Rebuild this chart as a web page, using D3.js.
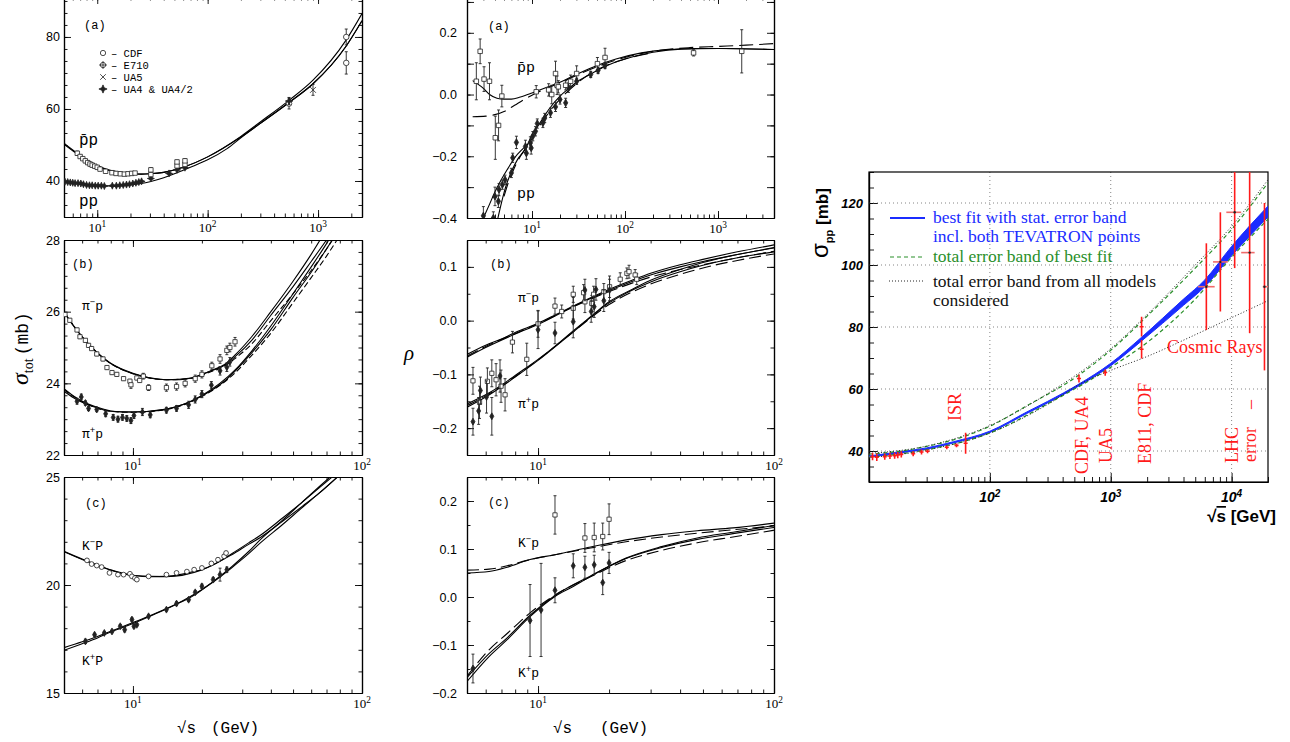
<!DOCTYPE html>
<html>
<head>
<meta charset="utf-8">
<script src="https://cdnjs.cloudflare.com/ajax/libs/d3/7.8.5/d3.min.js"></script>
<style>
body { margin: 0; background: #fff; }
</style>
</head>
<body>
<div id="chart"></div>
<script>

// ---------- left column (a): total cross sections pp and pbar-p, [sqrt s, sigma, err]
var ppbarSigmaData = [[6.6,47.7,0.6],[7.0,46.8,0.5],[7.4,46.2,0.5],[7.8,45.6,0.5],[8.2,45.1,0.5],[8.6,44.7,0.5],[9.0,44.4,0.5],[9.5,44.1,0.4],[10.0,43.8,0.4],[10.6,43.3,0.4],[11.9,42.7,0.4],[13.6,42.3,0.4],[14.8,42.1,0.4],[16.2,42.0,0.4],[17.6,41.9,0.4],[19.0,42.0,0.4],[20.5,42.1,0.4],[22.0,42.2,0.4],[30.6,41.8,0.5],[30.6,43.1,0.6],[52.8,44.2,0.5],[52.8,45.3,0.5],[62.3,44.6,0.5],[62.3,45.6,0.6]];
var ppSigmaData = [[5.1,39.8,0.2],[5.4,39.7,0.2],[5.7,39.6,0.2],[6.0,39.5,0.2],[6.3,39.4,0.2],[6.7,39.4,0.2],[7.1,39.3,0.2],[7.5,39.1,0.2],[8.0,38.9,0.2],[8.5,38.8,0.2],[9.0,38.8,0.2],[9.6,38.7,0.2],[10.2,38.7,0.2],[10.9,38.7,0.2],[11.6,38.6,0.2],[13.7,38.7,0.2],[14.9,38.7,0.2],[16.0,38.8,0.2],[17.2,38.9,0.2],[18.4,39.0,0.2],[19.6,39.1,0.2],[21.0,39.3,0.2],[22.4,39.5,0.2],[23.8,39.7,0.2],[25.2,39.9,0.2],[30.6,40.7,0.3],[44.7,42.1,0.3],[52.8,43.1,0.3],[62.3,43.7,0.3]];
var cdfSigmaData = [[546,61.5,1.5],[1800,80.0,2.2]];
var e710SigmaData = [[1800,72.8,3.1]];
var ua5SigmaData = [[900,65.3,1.5]];
var ua4SigmaData = [[546,62.2,1.0]];
var ppbarSigmaFitA = [[5,50.5],[6,48.6],[7,47.1],[8,45.9],[10,44.3],[12,43.3],[15,42.6],[20,42.1],[25,41.9],[30,42.0],[40,42.4],[60,43.8],[100,46.7],[200,52.2],[300,56.0],[546,61.8],[900,67.0],[1800,77.5],[2500,84.5]];
var ppbarSigmaFitB = [[5,50.2],[6,48.4],[7,46.9],[8,45.8],[10,44.2],[12,43.2],[15,42.5],[20,42.0],[25,41.9],[30,42.0],[40,42.4],[60,43.8],[100,46.7],[200,52.4],[300,56.4],[546,62.4],[900,68.0],[1800,79.2],[2500,86.5]];
var ppSigmaFitA = [[5,39.8],[6,39.5],[7,39.2],[8,39.0],[10,38.8],[12,38.65],[15,38.65],[20,38.9],[25,39.3],[30,39.8],[40,40.9],[50,42.0],[60,43.0],[80,44.6],[100,45.9],[150,49.0],[200,52.0],[300,56.0],[546,61.8],[900,67.0],[1800,77.5],[2500,84.5]];

// ---------- left column (b): pi-p and pi+p
var pimSigmaData = [[5.05,25.92,0.05],[5.3,25.76,0.05],[5.7,25.49,0.05],[5.87,25.3,0.05],[6.2,25.2,0.05],[6.4,25.06,0.05],[6.6,24.97,0.05],[6.95,24.82,0.05],[7.4,24.68,0.05],[7.7,24.44,0.05],[8.1,24.3,0.05],[8.5,24.25,0.05],[9.1,24.13,0.05],[9.7,24.06,0.05],[9.8,23.96,0.1],[10.4,24.15,0.05],[10.7,24.08,0.05],[11.1,24.2,0.08],[11.7,23.88,0.08],[14.0,23.88,0.1],[15.5,23.91,0.1],[16.9,24.0,0.1],[18.7,24.13,0.1],[20,24.25,0.1],[22.1,24.49,0.1],[24,24.68,0.12],[25.7,24.92,0.12],[26.5,25.0,0.12],[27.9,25.16,0.12]];
var pipSigmaData = [[5.7,23.5,0.08],[5.95,23.62,0.08],[6.2,23.45,0.06],[6.4,23.3,0.06],[6.95,23.27,0.06],[7.6,23.15,0.08],[8.2,23.05,0.08],[8.6,23.0,0.08],[9.0,23.05,0.08],[9.4,23.02,0.08],[9.8,22.96,0.08],[10.1,23.1,0.08],[11.0,23.2,0.1],[11.9,23.12,0.08],[14,23.25,0.08],[15.5,23.3,0.08],[17.5,23.4,0.1],[18.7,23.55,0.1],[20,23.7,0.1],[22,23.95,0.1],[24,24.35,0.12],[25.7,24.45,0.12],[26.5,24.6,0.12]];
var pimSigmaFitA = [[5,26.0],[5.5,25.6],[6,25.3],[7,24.85],[8,24.55],[9,24.38],[10,24.27],[12,24.15],[14,24.1],[16,24.1],[18,24.15],[20,24.25],[22,24.35],[25,24.5],[28,24.75],[33,25.2],[40,25.9],[50,26.7],[60,27.4],[70,28.0],[85,28.8]];
var pimSigmaFitB = [[5,25.98],[6,25.3],[8,24.56],[10,24.28],[14,24.1],[18,24.15],[22,24.36],[25,24.52],[28,24.8],[33,25.3],[40,26.0],[50,26.85],[60,27.6],[70,28.3]];
var pimSigmaDash = [[5,26.0],[6,25.3],[8,24.55],[10,24.27],[14,24.1],[18,24.14],[22,24.33],[25,24.47],[28,24.7],[33,25.1],[40,25.75],[50,26.5],[60,27.15],[70,27.75],[85,28.6]];
var pipSigmaFitA = [[5,23.85],[5.5,23.65],[6,23.5],[7,23.33],[8,23.23],[9,23.2],[10,23.2],[12,23.22],[14,23.28],[16,23.38],[18,23.5],[20,23.65],[22,23.8],[25,24.05],[28,24.35],[33,24.85],[40,25.5],[50,26.4],[60,27.1],[70,27.75],[85,28.6]];
var pipSigmaFitB = [[5,23.78],[5.5,23.6],[6,23.47],[7,23.31],[8,23.22],[10,23.2],[14,23.28],[20,23.66],[28,24.38],[33,24.9],[40,25.6],[50,26.5],[60,27.25],[70,27.9],[85,28.8]];
var pipSigmaDash = [[5,23.82],[6,23.49],[8,23.22],[10,23.19],[14,23.27],[20,23.63],[28,24.3],[33,24.78],[40,25.4],[50,26.25],[60,26.95],[70,27.55],[85,28.4]];

// ---------- left column (c): K-p and K+p
var kmSigmaData = [[6.3,21.14,0.05],[6.6,20.97,0.05],[6.95,20.9,0.05],[7.3,20.83,0.05],[7.9,20.56,0.05],[8.6,20.48,0.05],[9.1,20.48,0.05],[9.7,20.52,0.05],[9.9,20.4,0.05],[10.2,20.32,0.05],[10.4,20.25,0.05],[11.7,20.4,0.05],[14,20.48,0.05],[15.5,20.56,0.05],[17.2,20.62,0.05],[18.5,20.71,0.05],[20,20.79,0.05],[22,21.0,0.08],[23.5,21.17,0.08],[25,21.33,0.08],[25.5,21.48,0.08]];
var kpSigmaData = [[6.2,17.39,0.1],[6.8,17.7,0.06],[7.5,17.78,0.06],[8.1,17.85,0.06],[8.8,18.09,0.08],[9.2,17.93,0.1],[9.9,18.4,0.08],[10.1,18.09,0.08],[10.4,18.16,0.06],[11.7,18.55,0.06],[14,18.86,0.06],[15.5,19.14,0.08],[17.5,19.32,0.08],[18.7,19.66,0.08],[20,19.94,0.1],[22.4,20.25,0.1],[24,20.48,0.3],[25.7,20.71,0.12]];
var kmSigmaFitA = [[5,21.56],[6,21.2],[7,20.92],[8,20.7],[9,20.55],[10,20.45],[12,20.38],[14,20.4],[16,20.48],[18,20.6],[20,20.72],[23,21.0],[27,21.45],[32,21.95],[36,22.3],[45,23.1],[55,23.85],[65,24.5],[76,25.1]];
var kmSigmaFitB = [[5,21.54],[7,20.9],[10,20.44],[14,20.39],[20,20.7],[27,21.4],[32,21.88],[36,22.2],[45,22.95],[55,23.65],[65,24.25],[80,25.1]];
var kpSigmaFitA = [[5,17.1],[6,17.37],[7,17.62],[8,17.86],[10,18.26],[12,18.6],[15,19.05],[18,19.45],[22,20.1],[27,20.85],[32,21.55],[36,22.1],[45,23.0],[55,23.85],[65,24.55],[80,25.4]];
var kpSigmaFitB = [[5,16.98],[6,17.28],[7,17.55],[8,17.82],[10,18.22],[12,18.58],[15,19.04],[22,20.08],[27,20.8],[32,21.45],[36,21.95],[45,22.8],[55,23.6],[65,24.25],[80,25.1]];

// ---------- middle column (a): rho for pp and pbar-p
var ppbarRhoData = [[2.52,0.043,0.06],[2.77,0.14,0.04],[3.05,0.05,0.04],[3.49,0.043,0.06],[4.03,-0.14,0.07],[4.37,-0.10,0.05],[4.74,-0.005,0.035],[11.1,0.009,0.02],[15.1,0.015,0.02],[16.3,0.0,0.03],[17.9,0.068,0.04],[18.6,0.03,0.03],[19.2,0.025,0.02],[23.0,0.03,0.015],[26.0,0.043,0.02],[30.2,0.068,0.025],[50.5,0.10,0.02],[61,0.12,0.03],[546,0.135,0.01],[1800,0.14,0.07]];
var ppRhoData = [[3.0,-0.393,0.03],[3.84,-0.40,0.02],[4.0,-0.33,0.03],[4.35,-0.346,0.02],[4.42,-0.308,0.02],[4.8,-0.292,0.015],[5.13,-0.276,0.015],[6.0,-0.254,0.015],[6.2,-0.205,0.015],[6.8,-0.155,0.02],[8.5,-0.168,0.02],[8.7,-0.19,0.02],[9.6,-0.157,0.02],[9.8,-0.173,0.02],[10.2,-0.135,0.015],[10.9,-0.119,0.015],[11.4,-0.094,0.015],[13.1,-0.092,0.015],[13.7,-0.076,0.015],[15.8,-0.059,0.015],[17.9,-0.04,0.015],[20.0,-0.016,0.015],[23.0,-0.027,0.015],[24.7,0.022,0.015],[30.2,0.043,0.01],[42.8,0.065,0.01],[51.3,0.078,0.01],[61,0.094,0.01]];
var ppbarRhoFit = [[2.3,0.045],[3.0,0.02],[3.5,0.0],[4.2,-0.012],[5.0,-0.015],[6.0,-0.015],[7.5,-0.008],[10,0.005],[14,0.022],[20,0.04],[30,0.065],[50,0.094],[80,0.115],[150,0.135],[300,0.146],[600,0.149],[1200,0.149],[4000,0.146]];
var ppbarRhoDash = [[2.3,-0.072],[3.2,-0.07],[4,-0.065],[5,-0.055],[6.5,-0.035],[8,-0.018],[10,-0.002],[14,0.018],[20,0.038],[30,0.062],[50,0.09],[100,0.12],[200,0.14],[500,0.152],[1000,0.156],[2000,0.16],[4000,0.165]];
var ppRhoFitA = [[3.0,-0.4],[3.5,-0.355],[4.0,-0.315],[4.5,-0.285],[5.5,-0.24],[6.5,-0.205],[8,-0.175],[9,-0.16],[10,-0.13],[12,-0.095],[15,-0.05],[20,-0.005],[25,0.02],[30,0.04],[45,0.07],[60,0.09],[100,0.115],[200,0.137],[400,0.147],[1000,0.149],[4000,0.146]];
var ppRhoFitB = [[4.3,-0.4],[4.7,-0.35],[5.2,-0.3],[6,-0.25],[7,-0.21],[8.5,-0.175],[9,-0.16]];
var ppRhoDash = [[5.0,-0.33],[5.5,-0.29],[6.3,-0.245],[7.5,-0.2],[9,-0.165],[11,-0.12],[15,-0.06],[20,-0.015],[30,0.035],[50,0.08],[100,0.115],[200,0.135]];

// ---------- middle column (b): rho for pi-p and pi+p
var pimRhoData = [[5.3,-0.112,0.025],[5.65,-0.152,0.03],[6.1,-0.113,0.025],[6.37,-0.098,0.025],[6.64,-0.11,0.03],[6.97,-0.122,0.03],[7.25,-0.138,0.03],[7.79,-0.04,0.02],[8.96,-0.072,0.03],[10.0,-0.006,0.025],[11.8,0.027,0.015],[12.6,0.017,0.012],[14.1,0.049,0.015],[14.1,0.023,0.02],[15.6,0.052,0.015],[15.8,0.035,0.02],[16.9,0.032,0.015],[17.2,0.049,0.015],[19.0,0.054,0.015],[20.1,0.063,0.02],[22.3,0.077,0.012],[23.8,0.088,0.01],[24.3,0.091,0.012],[25.8,0.085,0.01],[26.2,0.077,0.01]];
var pipRhoData = [[5.3,-0.188,0.025],[5.6,-0.168,0.025],[5.7,-0.13,0.025],[6.05,-0.142,0.03],[6.37,-0.178,0.035],[6.9,-0.103,0.03],[10.0,-0.017,0.035],[11.8,-0.023,0.02],[14.1,-0.002,0.03],[15.8,0.057,0.02],[16.8,0.017,0.02],[17.3,0.026,0.02],[17.6,0.058,0.02],[19.0,0.037,0.02],[20.1,0.057,0.02]];
var pimRhoFitA = [[5,-0.063],[6,-0.046],[7,-0.034],[8,-0.022],[10,-0.005],[12,0.012],[15,0.033],[20,0.058],[25,0.075],[30,0.088],[40,0.104],[50,0.114],[70,0.128],[100,0.141]];
var pimRhoFitB = [[5,-0.068],[6,-0.05],[8,-0.025],[10,-0.007],[15,0.032],[20,0.056],[30,0.085],[40,0.1],[50,0.11],[70,0.123],[100,0.136]];
var pimRhoDash = [[5,-0.066],[6,-0.048],[8,-0.024],[10,-0.006],[15,0.031],[20,0.054],[30,0.081],[40,0.095],[50,0.104],[70,0.117],[100,0.129]];
var pipRhoFitA = [[5,-0.155],[6,-0.138],[7,-0.12],[8,-0.102],[10,-0.072],[12,-0.045],[14,-0.02],[17,0.01],[20,0.035],[25,0.058],[30,0.075],[40,0.095],[50,0.108],[70,0.123],[100,0.135]];
var pipRhoFitB = [[5,-0.161],[6,-0.142],[8,-0.105],[10,-0.074],[14,-0.022],[20,0.033],[30,0.072],[40,0.091],[50,0.103],[70,0.117],[100,0.128]];
var pipRhoDash = [[5,-0.158],[6,-0.14],[8,-0.104],[10,-0.073],[14,-0.022],[20,0.03],[30,0.068],[40,0.086],[50,0.098],[70,0.112],[100,0.124]];

// ---------- middle column (c): rho for K-p and K+p
var kmRhoData = [[11.8,0.171,0.04],[15.8,0.123,0.03],[17.3,0.124,0.03],[18.8,0.126,0.028],[20,0.162,0.032]];
var kpRhoData = [[5.3,-0.149,0.03],[9.25,-0.049,0.075],[10.3,-0.027,0.097],[11.8,0.014,0.026],[14.1,0.065,0.025],[15.8,0.062,0.023],[17.3,0.067,0.02],[18.8,0.030,0.025],[20,0.071,0.022]];
var kmRhoFit = [[5,0.05],[6.2,0.053],[7.4,0.062],[9.25,0.078],[11.8,0.088],[16.7,0.104],[23.6,0.119],[33.4,0.13],[47.3,0.138],[67,0.144],[100,0.154]];
var kmRhoDash = [[5,0.056],[6.2,0.058],[7.4,0.065],[9.25,0.078],[11.8,0.088],[16.7,0.102],[23.6,0.115],[33.4,0.125],[47.3,0.133],[67,0.14],[100,0.148]];
var kpRhoFitA = [[5,-0.176],[6.2,-0.124],[7.4,-0.089],[9.25,-0.041],[11.8,0.001],[14.1,0.022],[16.7,0.043],[23.6,0.081],[33.4,0.105],[47.3,0.123],[67,0.135],[100,0.149]];
var kpRhoFitB = [[5,-0.168],[6.2,-0.118],[7.4,-0.085],[9.25,-0.038],[11.8,0.003],[16.7,0.044],[23.6,0.08],[33.4,0.103],[47.3,0.12],[67,0.132],[100,0.145]];
var kpRhoDash = [[5,-0.165],[6.2,-0.11],[7.4,-0.076],[9.25,-0.033],[11.8,0.004],[16.7,0.042],[23.6,0.076],[33.4,0.097],[47.3,0.113],[67,0.125],[100,0.139]];

// ---------- right panel: sigma_pp extrapolation
var bandX = [10, 20, 30, 50, 100, 200, 300, 546, 1000, 1800, 4000, 6000, 10000, 20000];
var bandLo = [38.0, 39.6, 40.6, 42.6, 46.0, 52.0, 55.5, 61.0, 67.5, 75.5, 87.0, 93.0, 103.0, 115.5];
var bandHi = [38.4, 40.0, 41.0, 43.0, 46.4, 52.5, 56.0, 61.6, 68.3, 76.7, 89.0, 95.2, 106.0, 119.0];
var greenHi = [[10,39.0],[20,40.2],[30,41.5],[50,43.6],[100,48.0],[200,54.5],[500,63.5],[1000,72.5],[2000,83.5],[5000,99.0],[10000,111.5],[20000,126.5]];
var greenLo = [[10,38.0],[30,40.4],[100,45.8],[300,55.2],[1000,67.0],[2000,75.0],[5000,89.0],[10000,102.5],[20000,114.8]];
var dottedHi = [[10,39.2],[30,41.6],[100,48.2],[300,58.5],[1000,73.0],[2000,84.0],[5000,100.0],[10000,112.5],[20000,127.5]];
var dottedLo = [[10,37.8],[30,40.3],[100,45.8],[300,55.0],[550,61.5],[1000,66.0],[2000,70.5],[5000,77.5],[10000,83.0],[20000,88.5]];
var isrPoints = [[10.7,38.2,1.2],[11.6,38.0,1.2],[13.5,38.2,1.0],[14.9,38.4,1.0],[16.3,38.5,1.0],[17.3,38.7,1.0],[18.5,38.9,1.0],[23.2,39.1,0.8],[27.2,39.7,0.8],[30.5,39.9,0.6],[44,41.2,0.6],[53,41.8,0.6],[63,42.5,3.4]];
var colliderPoints = [[546,63.4,1.3],[900,65.3,1.0],[1800,80.1,3.2],[1800,72.8,3.0]];
// cosmic rays: [sqrt s, sigma, sigma err, sqrt s low, sqrt s high]
var cosmicPoints = [[6180,93,14,5270,7240],[8070,101,16,7020,9310],[10600,117,18,9040,12000],[14100,104,26,12000,15500],[18700,93,27,18100,20000]];

// ---------- drawing
var svg = d3.select("#chart").append("svg")
    .attr("width", 1290)
    .attr("height", 742)
    .style("font-family", "Liberation Sans, Arial, sans-serif");

function logTicks(domain) {
    var t = [];
    var d0 = Math.floor(Math.log10(domain[0])), d1 = Math.ceil(Math.log10(domain[1]));
    for (var d = d0; d <= d1; d++) {
        for (var m = 1; m < 10; m++) {
            var v = m * Math.pow(10, d);
            if (v >= domain[0] * 0.999 && v <= domain[1] * 1.001) t.push(v);
        }
    }
    return t;
}
function isDecade(v) { return Math.abs(Math.log10(v) - Math.round(Math.log10(v))) < 1e-6; }
function linTicks(lo, hi, step) {
    var t = [];
    for (var i = Math.ceil(lo / step - 1e-6); i * step <= hi + 1e-9; i++) t.push(+(i * step).toFixed(6));
    return t;
}

// axis with ticks pointing into the frame
function tickAxis(g, axis, transform, values, size) {
    g.append("g")
        .attr("transform", transform)
        .call(axis.tickValues(values).tickSize(-size).tickSizeOuter(0).tickFormat(""))
        .call(function(s) { s.select(".domain").attr("stroke-width", 1.2); })
        .call(function(s) { s.selectAll(".tick line").attr("stroke-width", 0.9); });
}

function makePanel(name, box, xDomain, yDomain, yMajor, yMinor, yFmt, opts) {
    var x = d3.scaleLog().domain(xDomain).range([box.left, box.right]);
    var y = d3.scaleLinear().domain(yDomain).range([box.bottom, box.top]);
    var g = svg.append("g");

    svg.append("clipPath").attr("id", "clip-" + name)
        .append("rect")
        .attr("x", box.left).attr("y", box.top)
        .attr("width", box.right - box.left).attr("height", box.bottom - box.top);

    var xAll = logTicks(xDomain);
    var xMaj = xAll.filter(isDecade);
    var yMajT = linTicks(yDomain[0], yDomain[1], yMajor);
    var yMinT = linTicks(yDomain[0], yDomain[1], yMinor);
    var big = opts.big || 7, small = opts.small || 3.5;

    tickAxis(g, d3.axisBottom(x), `translate(0, ${box.bottom})`, xAll, small);
    tickAxis(g, d3.axisBottom(x), `translate(0, ${box.bottom})`, xMaj, big);
    tickAxis(g, d3.axisLeft(y), `translate(${box.left}, 0)`, yMinT, small);
    tickAxis(g, d3.axisLeft(y), `translate(${box.left}, 0)`, yMajT, big);
    if (opts.mirror) {
        tickAxis(g, d3.axisTop(x), `translate(0, ${box.top})`, xAll, small);
        tickAxis(g, d3.axisTop(x), `translate(0, ${box.top})`, xMaj, big);
        tickAxis(g, d3.axisRight(y), `translate(${box.right}, 0)`, yMinT, small);
        tickAxis(g, d3.axisRight(y), `translate(${box.right}, 0)`, yMajT, big);
    }

    // tick labels
    var lab = opts.labelStyle || {};
    g.selectAll(null)
        .data(yMajT.filter(function(v) { return !opts.yLabels || opts.yLabels.indexOf(v) >= 0; }))
        .enter()
        .append("text")
        .attr("x", box.left - (opts.yPad || 4))
        .attr("y", function(d) { return y(d); })
        .attr("dy", "0.36em")
        .attr("text-anchor", "end")
        .attr("font-size", lab.size || 12.5)
        .attr("font-weight", lab.weight || "normal")
        .attr("font-style", lab.style || "normal")
        .attr("font-family", lab.family || null)
        .text(yFmt);

    g.selectAll(null)
        .data(xMaj.filter(function(v) { return !opts.xLabels || opts.xLabels.indexOf(v) >= 0; }))
        .enter()
        .append("text")
        .attr("x", function(d) { return x(d); })
        .attr("y", box.bottom + (opts.xPad || 15))
        .attr("text-anchor", "middle")
        .attr("font-size", lab.xsize || 13)
        .attr("font-weight", lab.weight || "normal")
        .attr("font-style", lab.style || "normal")
        .attr("font-family", lab.xfamily || "Liberation Serif, serif")
        .each(function(d) {
            var t = d3.select(this);
            t.append("tspan").text("10");
            t.append("tspan").attr("dy", -5).attr("font-size", (lab.xsize || 13) * 0.72).text(Math.round(Math.log10(d)));
        });

    return { g: g, x: x, y: y, clip: "url(#clip-" + name + ")" };
}

function drawLine(p, data, dash, color, width) {
    var line = d3.line()
        .x(function(d) { return p.x(d[0]); })
        .y(function(d) { return p.y(d[1]); })
        .curve(d3.curveMonotoneX);
    p.g.append("path")
        .datum(data)
        .attr("clip-path", p.clip)
        .attr("d", line)
        .attr("fill", "none")
        .attr("stroke", color || "#000")
        .attr("stroke-width", width || 1.1)
        .attr("stroke-dasharray", dash || null);
}

function drawErrors(p, data, cap) {
    p.g.append("g").attr("clip-path", p.clip)
        .selectAll("path")
        .data(data.filter(function(d) { return d[2]; }))
        .enter()
        .append("path")
        .attr("d", function(d) {
            var cx = p.x(d[0]), y0 = p.y(d[1] - d[2]), y1 = p.y(d[1] + d[2]);
            return `M${cx},${y0}V${y1}M${cx - cap},${y0}H${cx + cap}M${cx - cap},${y1}H${cx + cap}`;
        })
        .attr("stroke", "#222")
        .attr("stroke-width", 0.9)
        .attr("fill", "none");
}

// 4-point star used for UA4 style points
var star4 = {
    draw: function(ctx, size) {
        var r = Math.sqrt(size) * 0.75, q = r * 0.3;
        ctx.moveTo(0, -r); ctx.lineTo(q, -q); ctx.lineTo(r, 0); ctx.lineTo(q, q);
        ctx.lineTo(0, r); ctx.lineTo(-q, q); ctx.lineTo(-r, 0); ctx.lineTo(-q, -q); ctx.closePath();
    }
};

function drawMarkers(p, data, kind, size) {
    drawErrors(p, data, 1.5);
    var sym = {
        square: d3.symbolSquare, diamond: d3.symbolDiamond, circle: d3.symbolCircle,
        star: star4, times: d3.symbolTimes
    }[kind];
    var filled = kind === "diamond" || kind === "star";
    p.g.append("g").attr("clip-path", p.clip)
        .selectAll("path")
        .data(data)
        .enter()
        .append("path")
        .attr("transform", function(d) { return `translate(${p.x(d[0])}, ${p.y(d[1])})`; })
        .attr("d", d3.symbol().type(sym).size(size))
        .attr("fill", filled ? "#222" : "#fff")
        .attr("stroke", "#222")
        .attr("stroke-width", 0.8);
}

function label(x, y, txt, size, family, extra) {
    var t = svg.append("text")
        .attr("x", x).attr("y", y)
        .attr("font-size", size)
        .attr("font-family", family || "Liberation Mono, monospace")
        .text(txt);
    if (extra) extra(t);
    return t;
}

function supLabel(x, y, base, sup, rest, size) {
    var t = svg.append("text").attr("x", x).attr("y", y)
        .attr("font-size", size).attr("font-family", "Liberation Mono, monospace");
    t.append("tspan").text(base);
    t.append("tspan").attr("dy", -5).attr("font-size", size * 0.7).text(sup);
    t.append("tspan").attr("dy", 5).text(rest);
}

var fmt0 = function(d) { return d3.format("d")(d); };
var fmtRho = function(d) { return (d < 0 ? "\u2212" : "") + Math.abs(d).toFixed(1); };

// left column panels
var LA = makePanel("la", {left: 64, right: 362, top: -3, bottom: 217}, [5, 2500], [30, 91.1], 20, 20 / 6, fmt0, {mirror: true});
var LB = makePanel("lb", {left: 64, right: 362, top: 240, bottom: 455}, [5, 100], [22, 28], 2, 1 / 3, fmt0, {mirror: true});
var LC = makePanel("lc", {left: 64, right: 362, top: 477, bottom: 693}, [5, 100], [15, 25], 5, 1, fmt0, {mirror: true});

// middle column panels
var MA = makePanel("ma", {left: 467, right: 774, top: -3, bottom: 218}, [2, 4000], [-0.4, 0.316], 0.1, 0.1, fmtRho, {mirror: true, yPad: 10, yLabels: [-0.4, -0.2, 0, 0.2]});
var MB = makePanel("mb", {left: 467, right: 774, top: 240, bottom: 455}, [5, 100], [-0.25, 0.15], 0.1, 0.05, fmtRho, {mirror: true, yPad: 10});
var MC = makePanel("mc", {left: 467, right: 774, top: 477, bottom: 693}, [5, 100], [-0.2, 0.25], 0.1, 0.05, fmtRho, {mirror: true, yPad: 10});

// right panel
var RB = {left: 869, right: 1268, top: 172, bottom: 482};
var RP = makePanel("rp", RB, [10, 20000], [30, 130], 20, 5, fmt0,
    {mirror: false, big: 9, small: 5, yPad: 6, xPad: 20, yLabels: [40, 60, 80, 100, 120], xLabels: [100, 1000, 10000],
     labelStyle: {size: 13, xsize: 14, weight: "bold", style: "italic", xfamily: "Liberation Sans, Arial, sans-serif"}});

// ---- left (a)
drawLine(LA, ppbarSigmaFitA);
drawLine(LA, ppbarSigmaFitB);
drawLine(LA, ppSigmaFitA);
drawMarkers(LA, ppSigmaData, "star", 22);
drawMarkers(LA, ppbarSigmaData, "square", 20);
drawMarkers(LA, cdfSigmaData, "circle", 24);
drawMarkers(LA, e710SigmaData, "circle", 24);
drawMarkers(LA, ua5SigmaData, "times", 24);
drawMarkers(LA, ua4SigmaData, "star", 24);
label(84, 29, "(a)", 12);
label(79, 145, "p\u0304p", 16);
label(79, 206, "pp", 16);
// legend
var legRows = [["circle", "\u2013 CDF"], ["plus", "\u2013 E710"], ["times", "\u2013 UA5"], ["star", "\u2013 UA4 & UA4/2"]];
legRows.forEach(function(r, i) {
    var ly = 53 + i * 12;
    var sym = {circle: d3.symbolCircle, plus: d3.symbolCircle, times: d3.symbolTimes, star: star4}[r[0]];
    svg.append("path").attr("transform", `translate(103, ${ly})`)
        .attr("d", d3.symbol().type(sym).size(r[0] === "star" ? 30 : 22))
        .attr("fill", r[0] === "star" ? "#222" : "#fff").attr("stroke", "#222").attr("stroke-width", 0.8);
    if (r[0] === "plus") svg.append("path").attr("d", `M99,${ly}H107M103,${ly - 4}V${ly + 4}`).attr("stroke", "#222").attr("stroke-width", 0.8);
    label(111, ly + 3.5, r[1], 10.5);
});

// ---- left (b)
drawLine(LB, pimSigmaFitA);
drawLine(LB, pimSigmaFitB);
drawLine(LB, pimSigmaDash, "6,3");
drawLine(LB, pipSigmaFitA);
drawLine(LB, pipSigmaFitB);
drawLine(LB, pipSigmaDash, "6,3");
drawMarkers(LB, pimSigmaData, "square", 18);
drawMarkers(LB, pipSigmaData, "diamond", 14);
label(72, 268, "(b)", 12);
supLabel(82, 310, "\u03c0", "\u2212", "p", 13);
supLabel(82, 438, "\u03c0", "+", "p", 13);

// ---- left (c)
drawLine(LC, kmSigmaFitA);
drawLine(LC, kmSigmaFitB);
drawLine(LC, kpSigmaFitA);
drawLine(LC, kpSigmaFitB);
drawMarkers(LC, kmSigmaData, "circle", 18);
drawMarkers(LC, kpSigmaData, "diamond", 14);
label(85, 507, "(c)", 12);
supLabel(82, 550, "K", "\u2212", "P", 13);
supLabel(82, 665, "K", "+", "P", 13);

// ---- middle (a)
drawLine(MA, ppbarRhoFit);
drawLine(MA, ppbarRhoDash, "14,6");
drawLine(MA, ppRhoFitA);
drawLine(MA, ppRhoFitB);
drawLine(MA, ppRhoDash, "14,6");
drawMarkers(MA, ppRhoData, "diamond", 16);
drawMarkers(MA, ppbarRhoData, "square", 20);
label(488, 30, "(a)", 12);
label(517, 72, "p\u0304p", 15);
label(517, 198, "pp", 15);

// ---- middle (b)
drawLine(MB, pimRhoFitA);
drawLine(MB, pimRhoFitB);
drawLine(MB, pimRhoDash, "12,5");
drawLine(MB, pipRhoFitA);
drawLine(MB, pipRhoFitB);
drawLine(MB, pipRhoDash, "12,5");
drawMarkers(MB, pimRhoData, "square", 18);
drawMarkers(MB, pipRhoData, "diamond", 14);
label(490, 268, "(b)", 12);
supLabel(518, 302, "\u03c0", "\u2212", "p", 13);
supLabel(518, 408, "\u03c0", "+", "p", 13);
label(404, 360, "\u03c1", 21, "Liberation Serif, serif", function(t) { t.attr("font-style", "italic"); });

// ---- middle (c)
drawLine(MC, kmRhoFit);
drawLine(MC, kmRhoDash, "12,5");
drawLine(MC, kpRhoFitA);
drawLine(MC, kpRhoFitB);
drawLine(MC, kpRhoDash, "12,5");
drawMarkers(MC, kmRhoData, "square", 18);
drawMarkers(MC, kpRhoData, "diamond", 14);
label(488, 506, "(c)", 12);
supLabel(518, 547, "K", "\u2212", "p", 13);
supLabel(518, 677, "K", "+", "p", 13);

// axis titles, left and middle
label(177, 733, "\u221as", 16);
label(211, 733, "(GeV)", 16);
label(553, 733, "\u221as", 16);
label(600, 733, "(GeV)", 16);
var sg = svg.append("text")
    .attr("transform", "translate(28, 385) rotate(-90)")
    .attr("font-size", 18)
    .attr("font-family", "Liberation Serif, serif");
sg.append("tspan").attr("font-style", "italic").attr("font-size", 24).text("\u03c3");
sg.append("tspan").attr("dy", 5).attr("font-size", 14).text("tot");
sg.append("tspan").attr("dy", -5).attr("dx", 3).attr("font-family", "Liberation Mono, monospace").text("(mb)");

// ---- right panel
// dotted grid at major ticks
RP.g.selectAll(null)
    .data([40, 60, 80, 100, 120])
    .enter()
    .append("line")
    .attr("x1", RB.left).attr("x2", RB.right)
    .attr("y1", function(d) { return RP.y(d); }).attr("y2", function(d) { return RP.y(d); })
    .attr("stroke", "#777").attr("stroke-width", 0.9).attr("stroke-dasharray", "1,3");
RP.g.selectAll(null)
    .data([100, 1000, 10000])
    .enter()
    .append("line")
    .attr("y1", RB.top).attr("y2", RB.bottom)
    .attr("x1", function(d) { return RP.x(d); }).attr("x2", function(d) { return RP.x(d); })
    .attr("stroke", "#777").attr("stroke-width", 0.9).attr("stroke-dasharray", "1,3");
// frame
RP.g.append("rect")
    .attr("x", RB.left).attr("y", RB.top)
    .attr("width", RB.right - RB.left).attr("height", RB.bottom - RB.top)
    .attr("fill", "none").attr("stroke", "#000").attr("stroke-width", 1.2);

var band = d3.area()
    .x(function(d, i) { return RP.x(bandX[i]); })
    .y0(function(d, i) { return RP.y(bandLo[i]); })
    .y1(function(d, i) { return RP.y(bandHi[i]); })
    .curve(d3.curveMonotoneX);
RP.g.append("path").datum(bandX).attr("clip-path", RP.clip)
    .attr("d", band).attr("fill", "#1a2cff").attr("stroke", "#1a2cff").attr("stroke-width", 1);

drawLine(RP, greenHi, "4,3", "#2a8f2a", 1.2);
drawLine(RP, greenLo, "4,3", "#2a8f2a", 1.2);
drawLine(RP, dottedHi, "1,2", "#222", 1);
drawLine(RP, dottedLo, "1,2", "#222", 1);

var red = "#ff1a1a";
var redG = RP.g.append("g").attr("clip-path", RP.clip);
redG.selectAll(null)
    .data(isrPoints.concat(colliderPoints))
    .enter()
    .append("path")
    .attr("d", function(d) {
        var cx = RP.x(d[0]), cy = RP.y(d[1]);
        return `M${cx},${RP.y(d[1] - d[2])}V${RP.y(d[1] + d[2])}M${cx - 2},${cy}H${cx + 2}`;
    })
    .attr("stroke", red).attr("stroke-width", 1.6).attr("fill", "none");
redG.selectAll(null)
    .data(cosmicPoints)
    .enter()
    .append("path")
    .attr("d", function(d) {
        var cx = RP.x(d[0]);
        return `M${cx},${RP.y(d[1] - d[2])}V${RP.y(d[1] + d[2])}`;
    })
    .attr("stroke", red).attr("stroke-width", 1.6);
redG.selectAll(null)
    .data(cosmicPoints)
    .enter()
    .append("path")
    .attr("d", function(d) {
        var cy = RP.y(d[1]);
        return `M${RP.x(d[3])},${cy}H${RP.x(d[4])}`;
    })
    .attr("stroke", "#f06a6a").attr("stroke-width", 1.6);
redG.selectAll(null)
    .data(cosmicPoints)
    .enter()
    .append("circle")
    .attr("cx", function(d) { return RP.x(d[0]); })
    .attr("cy", function(d) { return RP.y(d[1]); })
    .attr("r", 1.2).attr("fill", "#222");

// red experiment labels
function redRot(x, y, txt) {
    svg.append("text")
        .attr("transform", `translate(${x}, ${y}) rotate(-90)`)
        .attr("font-size", 18).attr("font-family", "Liberation Serif, serif")
        .attr("fill", red).text(txt);
}
redRot(961, 421, "ISR");
redRot(1088, 474, "CDF, UA4");
redRot(1112, 463, "UA5");
redRot(1151, 464, "E811, CDF");
redRot(1238, 463, "LHC");
redRot(1256, 462, "error");
redRot(1256, 409, "\u2013");
svg.append("text").attr("x", 1167).attr("y", 353)
    .attr("font-size", 18).attr("font-family", "Liberation Serif, serif")
    .attr("fill", red).text("Cosmic Rays");

// legend
svg.append("line").attr("x1", 890).attr("x2", 925).attr("y1", 218).attr("y2", 218)
    .attr("stroke", "#1a2cff").attr("stroke-width", 2);
svg.append("line").attr("x1", 890).attr("x2", 925).attr("y1", 257).attr("y2", 257)
    .attr("stroke", "#2a8f2a").attr("stroke-width", 1.2).attr("stroke-dasharray", "4,3");
svg.append("line").attr("x1", 889).attr("x2", 924).attr("y1", 281).attr("y2", 281)
    .attr("stroke", "#222").attr("stroke-width", 1).attr("stroke-dasharray", "1,2");
var legTexts = [[223, "best fit with stat. error band", "#1a2cff"], [242, "incl. both TEVATRON points", "#1a2cff"],
    [262, "total error band of best fit", "#2a8f2a"], [287, "total error band from all models", "#111"], [306, "considered", "#111"]];
legTexts.forEach(function(r) {
    svg.append("text").attr("x", 933).attr("y", r[0])
        .attr("font-size", 17.5).attr("font-family", "Liberation Serif, serif")
        .attr("fill", r[2]).text(r[1]);
});

// right axis titles
var yt = svg.append("text")
    .attr("transform", "translate(828, 258) rotate(-90)")
    .attr("font-weight", "bold").attr("font-size", 17);
yt.append("tspan").attr("font-size", 24).attr("font-weight", "normal").text("\u03c3");
yt.append("tspan").attr("dy", 5).attr("font-size", 11).text("pp");
yt.append("tspan").attr("dy", -5).text("  [mb]");
var xt = svg.append("text").attr("x", 1276).attr("y", 522).attr("text-anchor", "end")
    .attr("font-weight", "bold").attr("font-size", 17);
xt.append("tspan").text("\u221a");
xt.append("tspan").attr("text-decoration", "overline").text("s");
xt.append("tspan").text(" [GeV]");

</script>
</body>
</html>
